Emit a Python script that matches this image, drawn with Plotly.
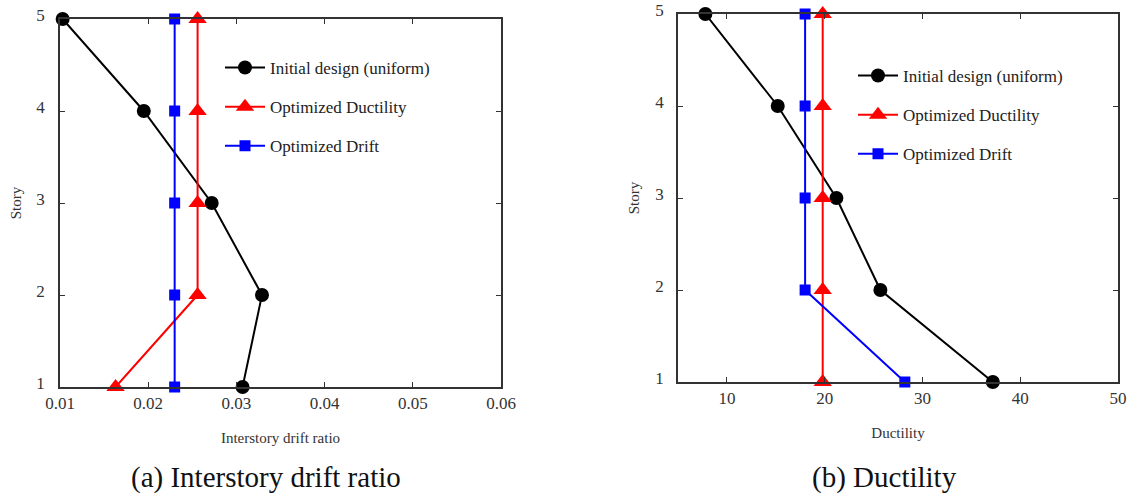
import plotly.graph_objects as go

stories = [1, 2, 3, 4, 5]

# Panel (a): interstory drift ratio
drift_initial = [0.0307, 0.0329, 0.0272, 0.0195, 0.0103]
drift_opt_ductility = [0.0163, 0.0256, 0.0256, 0.0256, 0.0256]
drift_opt_drift = [0.0230, 0.0230, 0.0230, 0.0230, 0.0230]

# Panel (b): ductility
duct_initial = [37.2, 25.7, 21.2, 15.2, 7.8]
duct_opt_ductility = [19.8, 19.8, 19.8, 19.8, 19.8]
duct_opt_drift = [28.2, 18.0, 18.0, 18.0, 18.0]

names = ["Initial design (uniform)", "Optimized Ductility", "Optimized Drift"]
colors = ["#000000", "#ff0000", "#0000ff"]
symbols = ["circle", "triangle-up", "square"]
msizes = [14, 16, 11]

W, H = 1127, 497
FONT = "Liberation Serif"

fig = go.Figure()

def add_series(xvals_list, xa, ya, leg):
    for i, xv in enumerate(xvals_list):
        fig.add_trace(go.Scatter(
            x=xv, y=stories, mode="lines+markers", name=names[i],
            line=dict(color=colors[i], width=2),
            marker=dict(symbol=symbols[i], size=msizes[i], color=colors[i]),
            xaxis=xa, yaxis=ya, legend=leg, legendgroup=leg + str(i),
            cliponaxis=False,
        ))

add_series([drift_initial, drift_opt_ductility, drift_opt_drift], "x", "y", "legend")
add_series([duct_initial, duct_opt_ductility, duct_opt_drift], "x2", "y2", "legend2")

axis_common = dict(
    showline=True, linecolor="#333333", linewidth=1.5, mirror="ticks",
    ticks="inside", ticklen=5, tickcolor="#333333", showgrid=False, zeroline=False,
    tickfont=dict(family=FONT, size=17, color="#333333"), automargin=False,
)

def px_x(p):
    return p / W

def px_y(p):
    return 1 - p / H

title_font = dict(family=FONT, size=15, color="#333333")

fig.update_layout(
    width=W, height=H, margin=dict(l=0, r=0, t=0, b=0, autoexpand=False),
    paper_bgcolor="white", plot_bgcolor="white",
    font=dict(family=FONT, color="#333333"),
    xaxis=dict(domain=[px_x(60), px_x(501)], range=[0.01, 0.06], anchor="y",
               tickvals=[0.01, 0.02, 0.03, 0.04, 0.05, 0.06],
               ticktext=["0.01", "0.02", "0.03", "0.04", "0.05", "0.06"],
               title=dict(text="Interstory drift ratio", font=title_font, standoff=20),
               **axis_common),
    yaxis=dict(domain=[px_y(387), px_y(19)], range=[1, 5], anchor="x",
               tickvals=stories, ticklabelstandoff=10, ticklabelshift=-4,
               title=dict(text="Story", font=title_font, standoff=11),
               **axis_common),
    xaxis2=dict(domain=[px_x(678), px_x(1118)], range=[5, 50], anchor="y2",
                tickvals=[10, 20, 30, 40, 50],
                title=dict(text="Ductility", font=title_font, standoff=20),
                **axis_common),
    yaxis2=dict(domain=[px_y(382), px_y(14)], range=[1, 5], anchor="x2",
                tickvals=stories, ticklabelstandoff=9, ticklabelshift=-4,
                title=dict(text="Story", font=title_font, standoff=12),
                **axis_common),
    legend=dict(x=px_x(220), y=px_y(50), xanchor="left", yanchor="top",
                bgcolor="rgba(0,0,0,0)", font=dict(family=FONT, size=17, color="#222222"),
                tracegroupgap=14, itemwidth=40),
    legend2=dict(x=px_x(853), y=px_y(58), xanchor="left", yanchor="top",
                 bgcolor="rgba(0,0,0,0)", font=dict(family=FONT, size=17, color="#222222"),
                 tracegroupgap=14, itemwidth=40),
    annotations=[
        dict(text="(a) Interstory drift ratio", x=px_x(266), y=px_y(477), xref="paper", yref="paper",
             showarrow=False, font=dict(family=FONT, size=29, color="#111111"), xanchor="center", yanchor="middle"),
        dict(text="(b) Ductility", x=px_x(884), y=px_y(477), xref="paper", yref="paper",
             showarrow=False, font=dict(family=FONT, size=29, color="#111111"), xanchor="center", yanchor="middle"),
    ],
)

fig.write_html("out.html")
